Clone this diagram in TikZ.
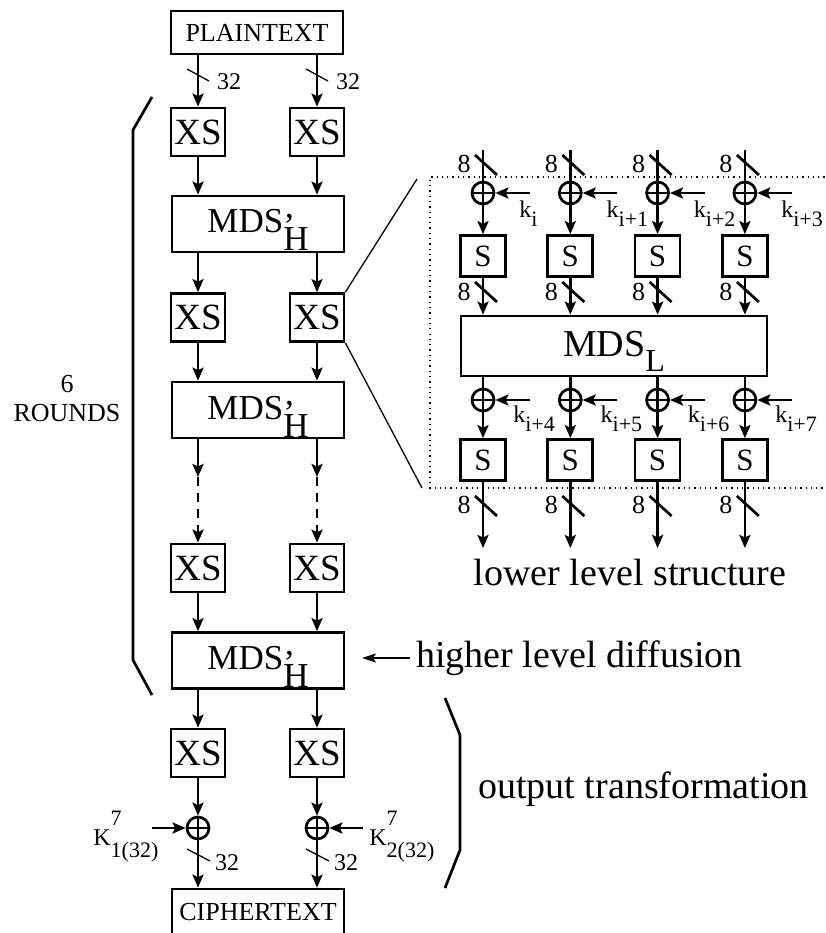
\documentclass[tikz,border=0pt]{standalone}
\usepackage{fontspec}
\setmainfont{Liberation Serif}
\usetikzlibrary{arrows.meta}
\newcommand{\fsz}[1]{\fontsize{#1}{#1}\selectfont}
\newcommand{\mdsh}{\rule{0pt}{36pt}MDS\rlap{\raisebox{-5pt}{'}}\raisebox{-18pt}{H}}
\newcommand{\mdsl}{\rule{0pt}{36pt}MDS\raisebox{-15pt}{\fsz{32}L}}

\begin{document}
\begin{tikzpicture}[x=1pt,y=-1pt,line width=2.7pt,
    arr/.style={-{Stealth[length=13pt,width=11pt,inset=2.5pt]}},
    harr/.style={line width=1.4pt,-{Stealth[length=14pt,width=9pt,inset=3pt]}},
    xsbox/.style={draw,inner sep=0pt,minimum width=54pt,minimum height=48pt,font=\fsz{37}},
    mdsbox/.style={draw,inner sep=0pt,minimum width=172pt,minimum height=56pt,font=\fsz{35}},
    txtbox/.style={draw,inner sep=0pt,minimum width=172pt,minimum height=43pt,font=\fsz{26}},
    sbox/.style={draw,inner sep=0pt,minimum width=45pt,minimum height=41pt,font=\fsz{31}},
    xorc/.style={circle,draw,inner sep=0pt,minimum size=22pt,
      path picture={\draw (path picture bounding box.north) -- (path picture bounding box.south)
        (path picture bounding box.west) -- (path picture bounding box.east);}},
    buslbl/.style={inner sep=0pt,font=\fsz{24}},
    bitlbl/.style={inner sep=0pt,font=\fsz{26}},
    klbl/.style={inner sep=0pt,anchor=base west,font=\fsz{24}},
    note/.style={inner sep=0pt,font=\fsz{38}}]
  \useasboundingbox (0,0) rectangle (826,933);

  % higher level: two 32-bit halves
  \node[txtbox] (pt) at (257,32.5) {PLAINTEXT};
  \foreach \r/\y in {1/132,2/317.5,3/568,4/753}{
    \node[xsbox] (xl\r) at (198,\y) {XS};
    \node[xsbox] (xr\r) at (317,\y) {XS};}
  \foreach \r/\y in {1/224,2/410,3/660.5}
    \node[mdsbox] (m\r) at (258,\y) {\mdsh};
  \node[txtbox,minimum height=46pt] (ct) at (258,912) {CIPHERTEXT};
  \node[xorc] (ox1) at (198,828) {};
  \node[xorc] (ox2) at (317,828) {};

  \foreach \s in {l,r}{
    \draw[arr] (x\s1 |- pt.south) -- (x\s1.north);
    \draw[arr] (x\s1.south) -- (x\s1 |- m1.north);
    \draw[arr] (x\s2 |- m1.south) -- (x\s2.north);
    \draw[arr] (x\s2.south) -- (x\s2 |- m2.north);
    \draw[arr] (x\s3.south) -- (x\s3 |- m3.north);
    \draw[arr] (x\s4 |- m3.south) -- (x\s4.north);}
  \draw[arr] (xl4.south) -- (ox1.north);
  \draw[arr] (xr4.south) -- (ox2.north);
  \draw[arr] (ox1.south) -- (ox1 |- ct.north);
  \draw[arr] (ox2.south) -- (ox2 |- ct.north);

  % skipped rounds
  \coordinate (gl) at (198,477);
  \coordinate (gr) at (317,477);
  \draw[arr] (xl3 |- m2.south) -- (gl);
  \draw[arr] (xr3 |- m2.south) -- (gr);
  \draw[arr,dash pattern=on 9pt off 7pt] (gl) -- (xl3.north);
  \draw[arr,dash pattern=on 9pt off 7pt] (gr) -- (xr3.north);

  % bus widths
  \foreach \c in {198,317}{
    \draw[line width=1.3pt] (\c-11,69) -- (\c+11,81);
    \draw[line width=1.3pt] (\c-11,849) -- (\c+12,861);
    \node[buslbl] at (\c+31,82) {32};
    \node[buslbl] at (\c+29,863) {32};}

  % output keys
  \coordinate (k1in) at (152,828);
  \coordinate (k2in) at (363,828);
  \draw[arr] (k1in) -- (ox1.west);
  \draw[arr] (k2in) -- (ox2.east);
  \node[klbl] (k1) at (92,845) {K\rlap{\raisebox{20pt}{\fsz{22}7}}\raisebox{-12pt}{\fsz{22}1(32)}};
  \node[klbl] (k2) at (368,845) {K\rlap{\raisebox{20pt}{\fsz{22}7}}\raisebox{-12pt}{\fsz{22}2(32)}};

  % braces
  \draw (152,97) -- (133,130) -- (133,660) -- (152,695);
  \draw (445,698) -- (460,735) -- (460,850) -- (445,888);
  \node[inner sep=0pt,anchor=base,font=\fsz{26}] (nr) at (67,392) {6};
  \node[inner sep=0pt,anchor=base,font=\fsz{26}] (rnd) at (67,421) {ROUNDS};
  \node[note,anchor=base west] (ot) at (477,798) {output transformation};

  % lower level structure
  \node[draw,inner sep=0pt,minimum width=306pt,minimum height=60pt,font=\fsz{38}] (mdsL) at (614,346) {\mdsl};
  \foreach \i/\ka/\kb in {0/i/i+4,1/i+1/i+5,2/i+2/i+6,3/i+3/i+7}{
    \pgfmathsetmacro\cx{483+87.3*\i}
    \coordinate (in\i) at (\cx,150);
    \coordinate (out\i) at (\cx,548);
    \node[xorc] (xa\i) at (\cx,193) {};
    \node[sbox] (sa\i) at (\cx,256) {S};
    \node[xorc] (xb\i) at (\cx,400) {};
    \node[sbox] (sb\i) at (\cx,460) {S};
    \draw (in\i) -- (xa\i.north);
    \draw[arr] (xa\i.south) -- (sa\i.north);
    \draw[arr] (sa\i.south) -- (sa\i.south |- mdsL.north);
    \draw (xb\i |- mdsL.south) -- (xb\i.north);
    \draw[arr] (xb\i.south) -- (sb\i.north);
    \draw[arr] (sb\i.south) -- (out\i);
    \coordinate (ka\i) at (\cx+47,193);
    \coordinate (kb\i) at (\cx+47,400);
    \draw[arr] (ka\i) -- (xa\i.east);
    \draw[arr] (kb\i) -- (xb\i.east);
    \node[klbl] (kla\i) at (\cx+35,218) {k\raisebox{-9pt}{\fsz{22}\ka}};
    \node[klbl] (klb\i) at (\cx+29,422) {k\raisebox{-9pt}{\fsz{22}\kb}};
    \foreach \y/\ly in {155/164,282/292,496/505}{
      \draw (\cx-8,\y) -- (\cx+14,\y+20);
      \node[bitlbl] at (\cx-19,\ly) {8};}}
  \draw[line width=1.3pt,dash pattern=on 1.3pt off 4pt] (830,177) -- (430,177) -- (430,488) -- (830,488);
  \coordinate (zt) at (417,179);
  \coordinate (zb) at (422,488);
  \draw[line width=1.3pt] (xr2.north east) -- (zt);
  \draw[line width=1.3pt] (xr2.south east) -- (zb);
  \node[note,anchor=base] (lls) at (630,585) {lower level structure};

  % pointer to the diffusion layer
  \node[note,anchor=base west] (hld) at (415,667) {higher level diffusion};
  \coordinate (ha) at (410,658);
  \coordinate (hb) at (362,658);
  \draw[harr] (ha) -- (hb);
\end{tikzpicture}
\end{document}
